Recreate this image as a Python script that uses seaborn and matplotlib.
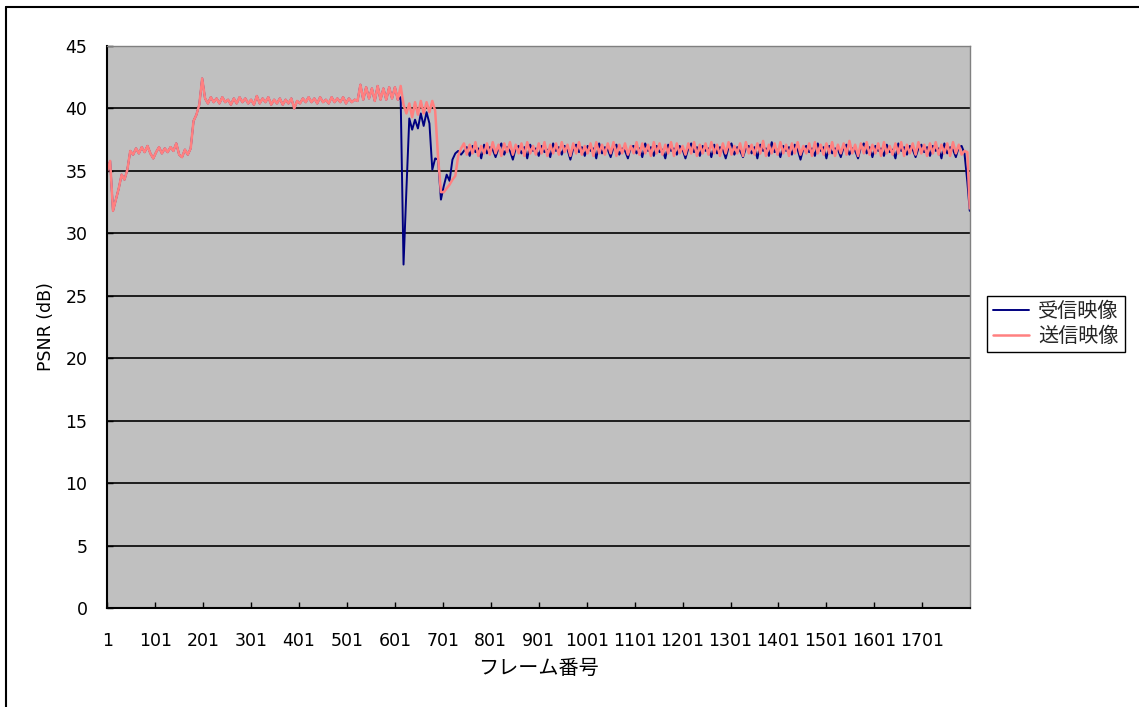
import numpy as np
import pandas as pd
import matplotlib
matplotlib.use("Agg")
import matplotlib.pyplot as plt
from matplotlib.lines import Line2D
import seaborn as sns

# Frame numbers of the plotted samples: every 6th frame, plus the final frame
frames = np.append(np.arange(1, 1800, 6), 1800)

# PSNR (dB) common to both streams before the first packet loss (frames 1-607)
psnr_start = [
    35.0, 35.8, 31.8, 32.7, 33.6, 34.7, 34.3, 35.1,
    36.6, 36.3, 36.8, 36.4, 36.9, 36.5, 37.0, 36.4, 36.0, 36.5, 36.9,
    36.4, 36.8, 36.5, 36.9, 36.6, 37.2, 36.3, 36.1, 36.7, 36.3, 36.8,
    39.0, 39.5, 40.3, 42.4, 40.8, 40.4,
    40.9, 40.5, 40.8, 40.4, 40.9, 40.5, 40.7, 40.3, 40.8, 40.4,
    40.9, 40.5, 40.8, 40.4, 40.7, 40.3, 41.0, 40.4, 40.8, 40.5,
    40.9, 40.3, 40.7, 40.4, 40.8, 40.3, 40.7, 40.4, 40.8, 40.0,
    40.6, 40.4, 40.8, 40.5, 40.9, 40.5, 40.8, 40.4, 40.9, 40.5,
    40.7, 40.4, 40.9, 40.5, 40.8, 40.5, 40.9, 40.4, 40.8, 40.5,
    40.7,
    40.6, 41.9, 40.7, 41.7, 40.8, 41.6, 40.6, 41.8, 40.7, 41.6,
    40.7, 41.7, 40.8, 41.7, 40.7,
]

# Frames 613-739: loss burst and recovery
send_drop = [41.8, 40.3, 39.6, 40.4, 39.3, 40.5, 39.5, 40.6, 39.6, 40.5, 39.7,
             40.6, 39.8, 36.1, 33.3, 33.3, 33.6, 33.9, 34.3, 34.6, 36.2, 36.8]
recv_drop = [40.9, 27.5, 33.5, 39.2, 38.3, 39.1, 38.4, 39.6, 38.6, 39.7, 38.8,
             35.1, 36.0, 35.9, 32.7, 33.8, 34.7, 34.2, 35.9, 36.4, 36.6, 36.3]

# Frames 745-1783: steady state
send_steady = [
    37.2, 36.3, 37.1, 36.4, 37.3, 36.2, 37.0, 36.4, 37.2, 36.3,
    37.3, 36.4, 37.1, 36.2, 37.2, 36.5, 37.3, 36.3, 37.1, 36.4,
    37.2, 36.2, 37.3, 36.4, 37.0, 36.3, 37.2, 36.4, 37.3, 36.2,
    37.1, 36.4, 37.2, 36.3, 37.3, 36.5, 37.1, 36.2, 37.2, 36.4,
    37.3, 36.3, 37.0, 36.4, 37.2, 36.2, 37.3, 36.4, 37.1, 36.3,
    37.2, 36.4, 37.3, 36.2, 37.1, 36.4, 37.2, 36.3, 37.0, 36.4,
    37.3, 36.3, 37.2, 36.4, 37.1, 36.2, 37.3, 36.4, 37.2, 36.3,
    37.1, 36.4, 37.3, 36.2, 37.2, 36.4, 37.0, 36.3, 37.2, 36.4,
    37.3, 36.2, 37.1, 36.4, 37.2, 36.3, 37.3, 36.4, 37.1, 36.2,
    37.2, 36.4, 37.3, 36.3, 37.0, 36.4, 37.2, 36.2, 37.3, 36.4,
    37.1, 36.3, 37.2, 36.4, 37.4, 36.2, 37.1, 36.4, 37.2, 36.3,
    37.3, 36.4, 37.1, 36.2, 37.2, 36.4, 37.3, 36.3, 37.0, 36.4,
    37.2, 36.2, 37.3, 36.4, 37.1, 36.3, 37.2, 36.4, 37.3, 36.2,
    37.1, 36.4, 37.2, 36.3, 37.4, 36.4, 37.1, 36.2, 37.2, 36.4,
    37.3, 36.3, 37.1, 36.4, 37.2, 36.2, 37.3, 36.4, 37.0, 36.3,
    37.2, 36.4, 37.3, 36.2, 37.1, 36.4, 37.2, 36.3, 37.3, 36.4,
    37.1, 36.2, 37.2, 36.4, 37.3, 36.3, 37.1, 36.4, 37.2, 36.2,
    37.3, 36.4, 37.1, 36.3,
]
recv_steady = [
    36.6, 36.9, 36.2, 37.0, 36.5, 36.8, 36.0, 37.1, 36.4, 36.9,
    36.7, 36.1, 36.8, 37.2, 36.3, 36.9, 36.6, 35.9, 36.8, 37.0,
    36.4, 36.9, 36.0, 37.1, 36.6, 36.8, 36.2, 37.0, 36.5, 36.7,
    36.1, 37.2, 36.6, 36.9, 36.3, 37.0, 36.7, 35.9, 36.8, 37.1,
    36.5, 36.9, 36.2, 37.0, 36.6, 36.8, 36.0, 37.2, 36.4, 36.9,
    36.7, 36.1, 36.9, 37.1, 36.3, 36.8, 36.6, 36.0, 36.9, 37.0,
    36.4, 36.8, 36.1, 37.2, 36.6, 36.9, 36.2, 37.0, 36.5, 36.7,
    36.0, 37.1, 36.6, 36.8, 36.3, 37.0, 36.7, 36.0, 36.8, 37.2,
    36.5, 36.9, 36.2, 37.0, 36.6, 36.8, 36.1, 37.1, 36.4, 36.9,
    36.7, 36.0, 36.9, 37.2, 36.3, 36.9, 36.6, 36.1, 36.8, 37.0,
    36.4, 36.9, 36.0, 37.1, 36.6, 36.8, 36.2, 37.3, 36.5, 36.7,
    36.1, 37.0, 36.6, 36.9, 36.3, 37.1, 36.7, 35.9, 36.8, 37.0,
    36.5, 36.8, 36.2, 37.2, 36.6, 36.9, 36.0, 37.0, 36.4, 36.8,
    36.7, 36.1, 36.9, 37.1, 36.3, 36.8, 36.6, 36.0, 36.9, 37.2,
    36.4, 36.9, 36.1, 37.0, 36.6, 36.8, 36.2, 37.1, 36.5, 36.7,
    36.0, 37.2, 36.6, 36.9, 36.3, 37.0, 36.7, 36.1, 36.8, 37.1,
    36.5, 36.9, 36.2, 37.0, 36.6, 36.8, 36.0, 37.2, 36.4, 36.9,
    36.7, 36.1, 36.9, 37.0,
]

# Last frames (1789, 1795, 1800)
send_end = [36.6, 36.5, 32.0]
recv_end = [36.4, 34.1, 31.8]

series_names = ["受信映像", "送信映像"]
series_colors = ["#000080", "#FF8080"]
x_tick_values = [1, 101, 201, 301, 401, 501, 601, 701, 801, 901,
                 1001, 1101, 1201, 1301, 1401, 1501, 1601, 1701]
x_tick_labels = ["1", "101", "201", "301", "401", "501", "601", "701", "801",
                 "901", "1001", "1101", "1201", "1301", "1401", "1501", "1601", "1701"]
y_ticks = [0, 5, 10, 15, 20, 25, 30, 35, 40, 45]

recv = psnr_start + recv_drop + recv_steady + recv_end
send = psnr_start + send_drop + send_steady + send_end

df = pd.DataFrame({
    "frame": np.concatenate([frames, frames]),
    "psnr": recv + send,
    "series": [series_names[0]] * len(recv) + [series_names[1]] * len(send),
})

sns.set_theme(style="white")
plt.rcParams["font.family"] = ["DejaVu Sans", "Noto Sans CJK JP"]

W, H = 1139, 707
fig = plt.figure(figsize=(W / 100, H / 100), dpi=100)
fig.patch.set_facecolor("white")
ax = fig.add_axes([107 / W, 1 - 608 / H, 863 / W, 562 / H])
ax.set_facecolor("#C0C0C0")

sns.lineplot(data=df, x="frame", y="psnr", hue="series", hue_order=series_names,
             palette=dict(zip(series_names, series_colors)), estimator=None,
             linewidth=1.3, legend=False, ax=ax)
ax.lines[0].set_linewidth(1.4)
ax.lines[1].set_linewidth(1.8)

ax.set_xlim(0.5, 1800.5)
ax.set_ylim(0, 45)
ax.set_xticks(x_tick_values)
ax.set_xticklabels(x_tick_labels)
ax.set_yticks(y_ticks)

ax.yaxis.grid(True, color="#101010", linewidth=1.3)
ax.xaxis.grid(False)
ax.set_axisbelow(True)
ax.get_ygridlines()[-1].set_visible(False)

ax.tick_params(axis="both", direction="in", length=4, width=1, color="black",
               labelcolor="black", labelsize=12.5)
ax.tick_params(axis="x", pad=17, bottom=True, top=False)
ax.tick_params(axis="y", pad=14, left=True, right=False)

for side in ("left", "bottom"):
    ax.spines[side].set_color("black")
    ax.spines[side].set_linewidth(1.5)
for side in ("top", "right"):
    ax.spines[side].set_color("#808080")
    ax.spines[side].set_linewidth(1.0)

ax.set_xlabel("フレーム番号", fontsize=14.5, color="black")
ax.set_ylabel("PSNR (dB)", fontsize=12.5, color="black")
ax.xaxis.set_label_coords(0.5, (608 - 659) / 562)
ax.yaxis.set_label_coords((55 - 107) / 863, 0.5)

fig.legend(ax.lines[:2], series_names, loc="upper left",
           bbox_to_anchor=(987 / W, 1 - 296 / H), borderaxespad=0,
           frameon=True, fancybox=False, shadow=False, framealpha=1,
           edgecolor="black", facecolor="white", fontsize=14.5,
           handlelength=1.8, handletextpad=0.45, borderpad=0.3,
           labelspacing=0.25)
fig.legends[0].get_frame().set_linewidth(1.0)

# Outer chart frame
fig.add_artist(Line2D([6 / W, 6 / W], [0, 1 - 7 / H], transform=fig.transFigure,
                      color="black", linewidth=1.5))
fig.add_artist(Line2D([6 / W, 1], [1 - 7 / H, 1 - 7 / H], transform=fig.transFigure,
                      color="black", linewidth=1.5))

fig.savefig("out.png", dpi=100, facecolor="white")
